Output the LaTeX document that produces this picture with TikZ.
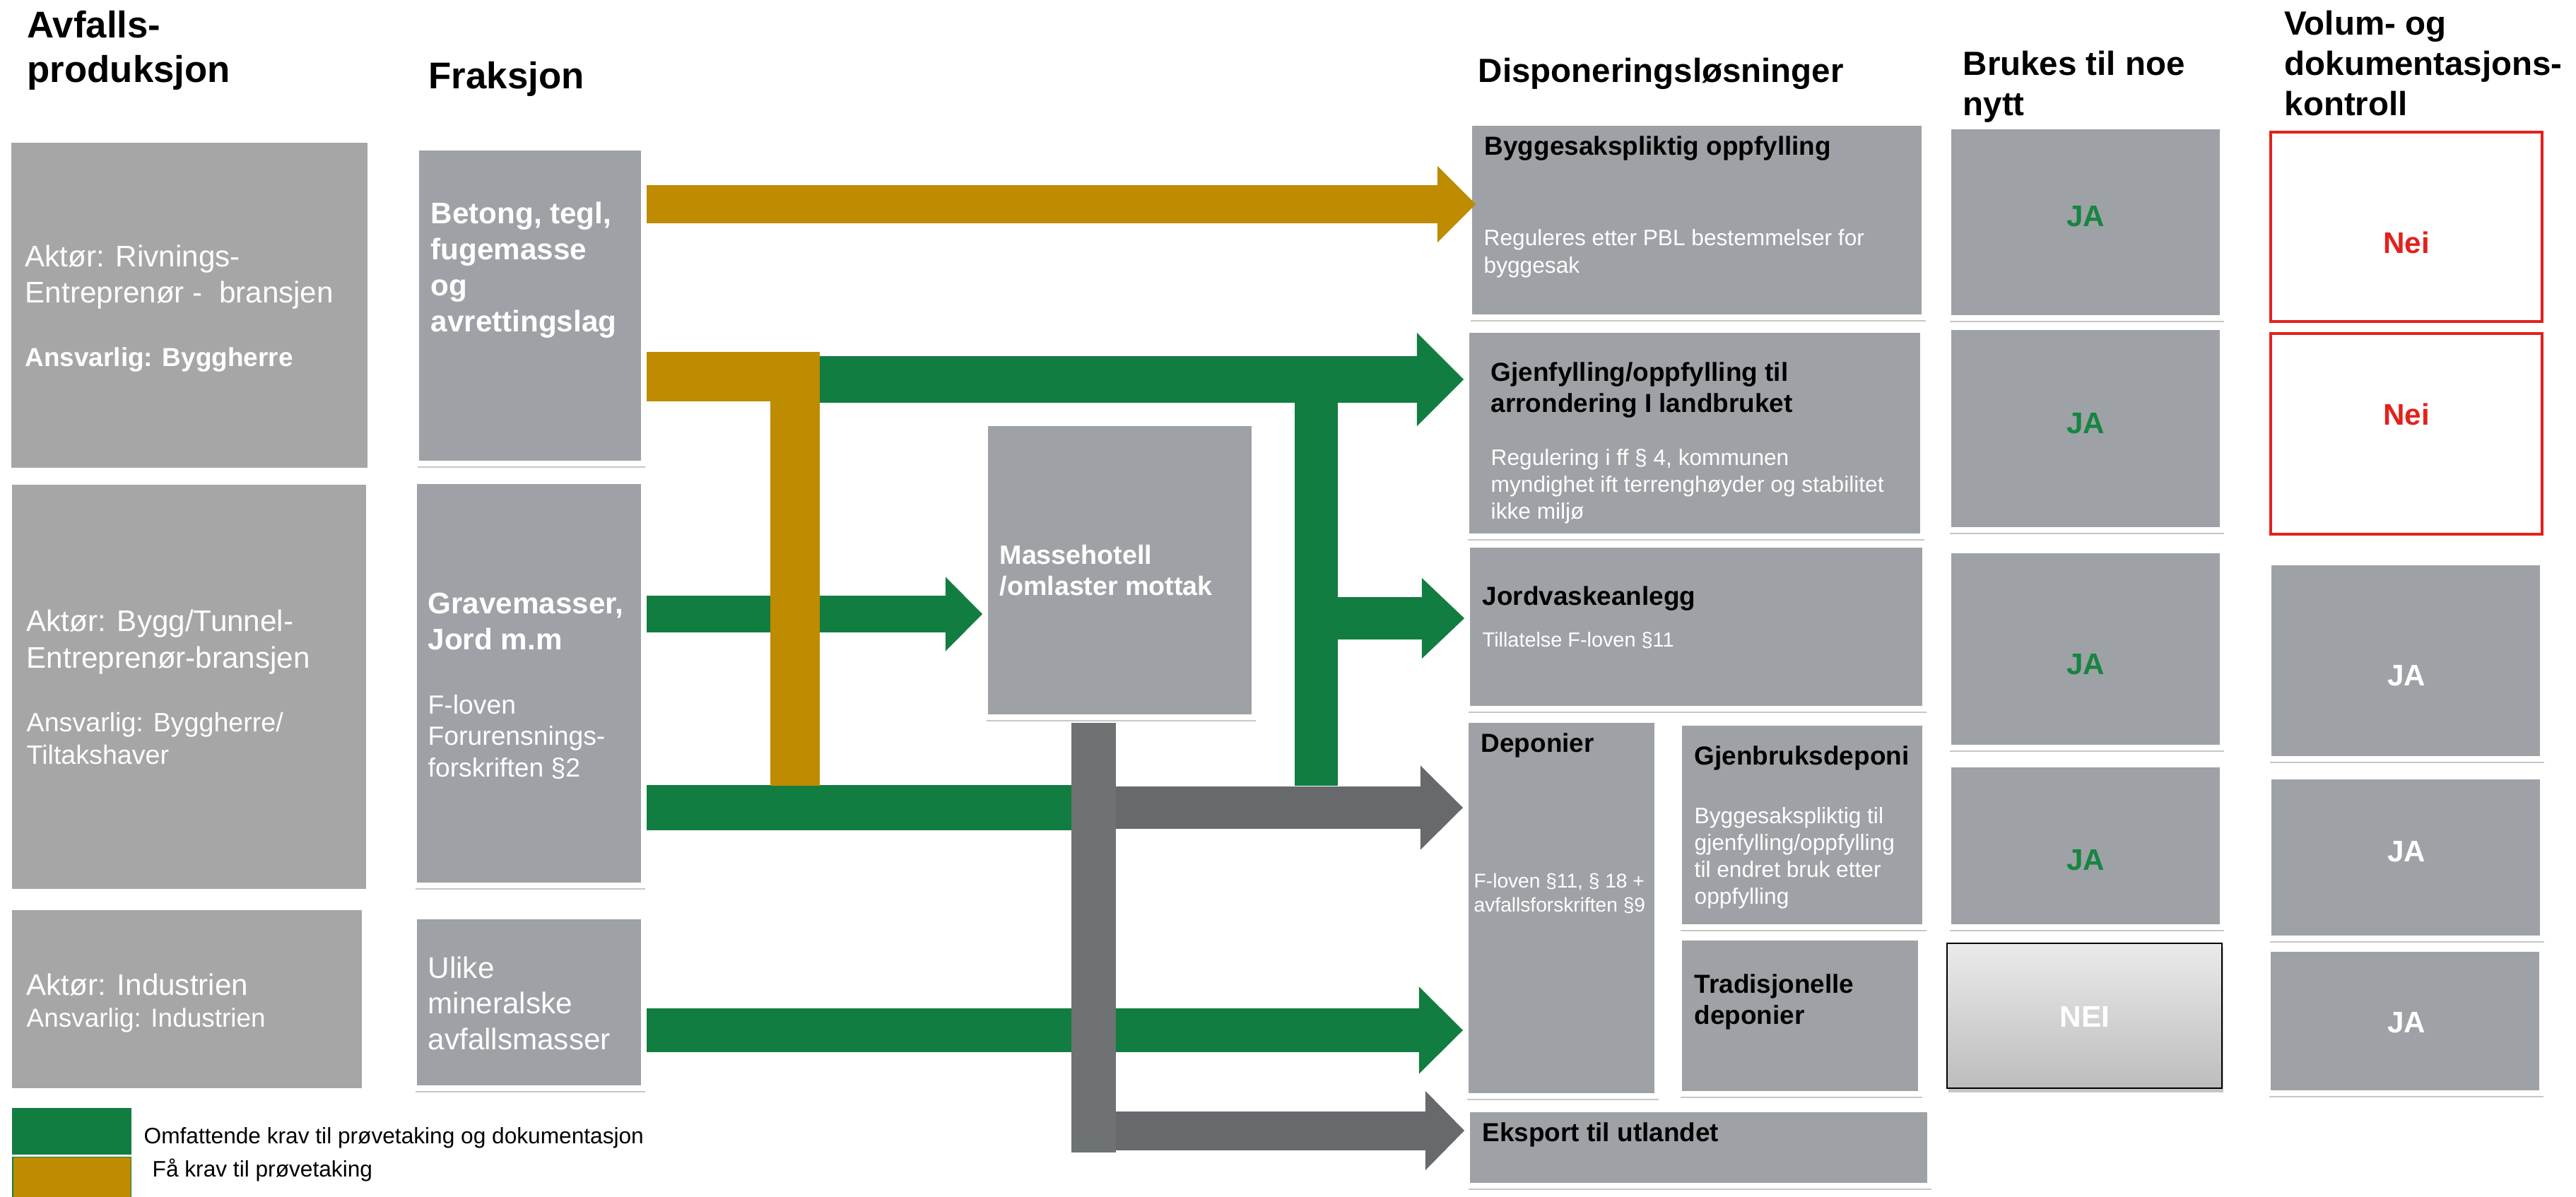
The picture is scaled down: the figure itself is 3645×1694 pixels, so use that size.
\documentclass[tikz,border=0pt]{standalone}
\usepackage{fontspec}
\setmainfont{Liberation Sans}
\usetikzlibrary{arrows.meta,fit,shadows}

\definecolor{flowgreen}{HTML}{127D41}
\definecolor{flowgold}{HTML}{BF8B00}
\definecolor{flowgrey}{HTML}{67696C}
\definecolor{bargrey}{HTML}{6E7273}
\definecolor{panelgrey}{HTML}{9EA2A6}
\definecolor{actorgrey}{HTML}{A6A6A6}
\definecolor{neired}{HTML}{E3211C}
\definecolor{jagreen}{HTML}{178540}

\newcommand{\fsz}[2]{\fontsize{#1}{#2}\selectfont}

% multi-line text nodes are placed by the baseline of their last line
\tikzset{
    actor/.style={fill=actorgrey, inner sep=0pt},
    panel/.style={fill=panelgrey, draw=white, line width=0.8mm, inner sep=0.4mm,
        drop shadow={shadow xshift=0.2mm, shadow yshift=-0.6mm, opacity=0.22, fill=black}},
    redframe/.style={draw=neired, line width=0.45mm, inner sep=0pt},
    colhead/.style={anchor=base west, align=left, inner sep=0pt, font=\bfseries\fsz{13.5}{16.2}},
    wtxt/.style={anchor=base west, align=left, inner sep=0pt, text=white},
    ktxt/.style={anchor=base west, align=left, inner sep=0pt, text=black, font=\bfseries\fsz{10.5}{12.5}},
    verdict/.style={inner sep=0pt, font=\bfseries\fsz{12}{14}},
    flow/.style 2 args={line width=#1, -{Triangle[line width=0pt, length=#1, width=#2]}},
    band/.style={line width=#1},
}

\begin{document}
\begin{tikzpicture}[x=0.01cm, y=-0.01cm]
    \useasboundingbox (0,0) rectangle (3645,1694);

    % column headings
    \node[colhead, font=\bfseries\fsz{15}{18}] (hprod) at (38,117) {Avfalls-\\produksjon};
    \node[colhead, font=\bfseries\fsz{15}{18}] (hfrak) at (606,126) {Fraksjon};
    \node[colhead] (hdisp) at (2091,117) {Disponeringsløsninger};
    \node[colhead] (hbruk) at (2777,163) {Brukes til noe\\nytt};
    \node[colhead] (hvol) at (3232,163) {Volum- og\\dokumentasjons-\\kontroll};

    % actors
    \node[actor, fit={(16,202) (520,662)}] (a1) {};
    \node[actor, fit={(17,686) (518,1258)}] (a2) {};
    \node[actor, fit={(17,1288) (512,1540)}] (a3) {};
    \node[wtxt, font=\fsz{12}{14.4}] (a1txt) at (35,428) {Aktør: Rivnings-\\Entreprenør -\ \ bransjen};
    \node[wtxt, font=\bfseries\fsz{10.5}{12.6}] (a1resp) at (35,518) {Ansvarlig: Byggherre};
    \node[wtxt, font=\fsz{12}{14.6}] (a2txt) at (37,945) {Aktør: Bygg/Tunnel-\\Entreprenør-bransjen};
    \node[wtxt, font=\fsz{10.7}{12.8}] (a2resp) at (37,1081) {Ansvarlig: Byggherre/\\Tiltakshaver};
    \node[wtxt, font=\fsz{12}{14.4}] (a3txt) at (37,1408) {Aktør: Industrien};
    \node[wtxt, font=\fsz{10.5}{12.6}] (a3resp) at (37,1453) {Ansvarlig: Industrien};

    % fractions
    \node[panel, fit={(593,213) (907,652)}] (f1) {};
    \node[panel, fit={(590,685) (907,1249)}] (f2) {};
    \node[panel, fit={(590,1301) (907,1536)}] (f3) {};
    \node[wtxt, font=\bfseries\fsz{12}{14.5}] (f1txt) at (609,469) {Betong, tegl,\\fugemasse\\og\\avrettingslag};
    \node[wtxt, font=\bfseries\fsz{12}{14.5}] (f2txt) at (605,919) {Gravemasser,\\Jord m.m};
    \node[wtxt, font=\fsz{10.6}{12.6}] (f2law) at (605,1099) {F-loven\\Forurensnings-\\forskriften §2};
    \node[wtxt, font=\fsz{12}{14.3}] (f3txt) at (605,1485) {Ulike\\mineralske\\avfallsmasser};

    % mass hotel
    \node[panel, fit={(1398,603) (1771,1011)}] (mh) {};
    \node[wtxt, font=\bfseries\fsz{10.7}{12.5}] (mhtxt) at (1414,842) {Massehotell\\/omlaster mottak};

    % disposal solutions
    \node[panel, fit={(2083,178) (2719,445)}] (d1) {};
    \node[panel, fit={(2079,471) (2717,755)}] (d2) {};
    \node[panel, fit={(2080,775) (2720,999)}] (d3) {};
    \node[panel, fit={(2078,1023) (2341,1547)}] (d4) {};
    \node[panel, fit={(2380,1027) (2720,1308)}] (d5) {};
    \node[panel, fit={(2380,1331) (2714,1544)}] (d6) {};
    \node[panel, fit={(2080,1574) (2727,1674)}] (d7) {};
    \node[ktxt] (d1head) at (2100,220) {Byggesakspliktig oppfylling};
    \node[wtxt, font=\fsz{9}{11}] (d1txt) at (2099,386) {Reguleres etter PBL bestemmelser for\\byggesak};
    \node[ktxt, font=\bfseries\fsz{10.5}{12.3}] (d2head) at (2109,583) {Gjenfylling/oppfylling til\\arrondering I landbruket};
    \node[wtxt, font=\fsz{9}{10.8}] (d2txt) at (2109,734) {Regulering i ff § 4, kommunen\\myndighet ift terrenghøyder og stabilitet\\ikke miljø};
    \node[ktxt] (d3head) at (2097,856) {Jordvaskeanlegg};
    \node[wtxt, font=\fsz{8.2}{10}] (d3txt) at (2097,915) {Tillatelse F-loven §11};
    \node[ktxt] (d4head) at (2095,1064) {Deponier};
    \node[wtxt, font=\fsz{8}{9.4}] (d4txt) at (2085,1290) {F-loven §11, § 18 +\\avfallsforskriften §9};
    \node[ktxt] (d5head) at (2397,1082) {Gjenbruksdeponi};
    \node[wtxt, font=\fsz{9}{10.8}] (d5txt) at (2397,1279) {Byggesakspliktig til\\gjenfylling/oppfylling\\til endret bruk etter\\oppfylling};
    \node[ktxt] (d6head) at (2397,1449) {Tradisjonelle\\deponier};
    \node[ktxt] (d7head) at (2097,1615) {Eksport til utlandet};

    % reuse and control columns
    \node[panel, fit={(2761,183) (3141,446)}] (b1) {};
    \node[panel, fit={(2761,467) (3141,746)}] (b2) {};
    \node[panel, fit={(2761,783) (3141,1054)}] (b3) {};
    \node[panel, fit={(2761,1086) (3141,1308)}] (b4) {};
    \node[draw=black, line width=0.2mm, top color=black!8, bottom color=black!26, inner sep=0pt,
        drop shadow={shadow xshift=0.2mm, shadow yshift=-0.6mm, opacity=0.22, fill=black},
        fit={(2755,1335) (3144,1540)}] (b5) {};
    \node[redframe, fit={(3213,187) (3597,455)}] (v1) {};
    \node[redframe, fit={(3213,472) (3597,756)}] (v2) {};
    \node[panel, fit={(3214,800) (3594,1070)}] (v3) {};
    \node[panel, fit={(3214,1103) (3594,1324)}] (v4) {};
    \node[panel, fit={(3213,1347) (3593,1543)}] (v5) {};

    \foreach \n/\y in {1/306, 2/599, 3/940, 4/1217}
        \node[verdict, text=jagreen] (jab\n) at (2951,\y) {JA};
    \node[verdict, text=white] (neib5) at (2950,1439) {NEI};
    \node[verdict, text=neired] (neiv1) at (3405,343) {Nei};
    \node[verdict, text=neired] (neiv2) at (3405,586) {Nei};
    \foreach \n/\y in {3/956, 4/1205, 5/1447}
        \node[verdict, text=white] (jav\n) at (3405,\y) {JA};

    % legend
    \node[fill=flowgreen, inner sep=0pt, fit={(17,1568) (186,1634)}] (lgreen) {};
    \node[fill=flowgold, draw=flowgreen, line width=0.1mm, inner sep=0pt, fit={(18,1637) (185,1700)}] (lgold) {};
    \node[anchor=base west, inner sep=0pt, font=\fsz{9}{11}] (lgreentxt) at (203,1618) {Omfattende krav til prøvetaking og dokumentasjon};
    \node[anchor=base west, inner sep=0pt, font=\fsz{9}{11}] (lgoldtxt) at (215,1665) {Få krav til prøvetaking};

    % flows
    \coordinate (fork) at (1125,537);
    \coordinate (goldend) at (1125,1112);
    \coordinate (vtop) at (1862,537);
    \coordinate (vbot) at (1862,1112);
    \coordinate (bartop) at (1547,1023);
    \coordinate (barbot) at (1547,1631);
    \coordinate (l1) at (0,289);
    \coordinate (l2) at (0,533);
    \coordinate (l3) at (0,869);
    \coordinate (l4) at (0,875);
    \coordinate (l5) at (0,1143);
    \coordinate (l7) at (0,1458);
    \coordinate (l8) at (0,1600);

    \draw[flowgreen, flow={6.6mm}{13.2mm}] (fork) -- (d2.west |- fork);
    \draw[flowgreen, band=6.1mm] (vtop) -- (vbot);
    \draw[flowgreen, flow={6mm}{11.4mm}] (vtop |- l4) -- (d3.west |- l4);
    \draw[flowgreen, flow={5.2mm}{10.5mm}] (f2.east |- l3) -- (mh.west |- l3);
    \draw[flowgreen, band=6.4mm] (f2.east |- l5) -- (bartop |- l5);
    \draw[flowgreen, flow={6.2mm}{12.3mm}] (f3.east |- l7) -- (d4.west |- l7);

    \draw[flowgold, flow={5.4mm}{10.8mm}] (f1.east |- l1) -- ([xshift=1.3mm]d1.west |- l1);
    \draw[flowgold, band=7mm, line join=miter] (f1.east |- l2) -| (goldend);

    \draw[flowgrey, flow={6mm}{11.9mm}] (bartop |- l5) -- (d4.west |- l5);
    \draw[flowgrey, flow={5.5mm}{11.2mm}] (bartop |- l8) -- (d7.west |- l8);
    \draw[bargrey, band=6.3mm] (bartop) -- (barbot);
\end{tikzpicture}
\end{document}
